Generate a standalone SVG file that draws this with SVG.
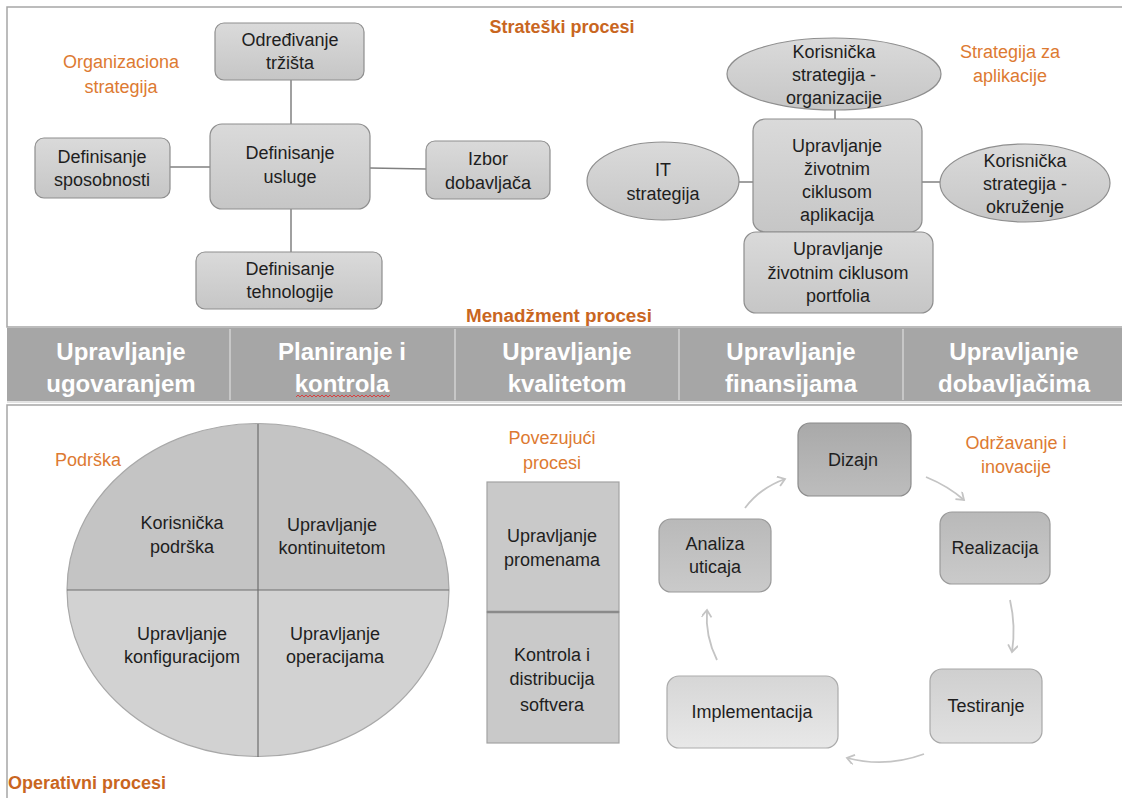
<svg xmlns="http://www.w3.org/2000/svg" width="1122" height="798" viewBox="0 0 1122 798">
<defs>
<linearGradient id="gNode" x1="0" y1="0" x2="0" y2="1"><stop offset="0" stop-color="#dadada"/><stop offset="1" stop-color="#c6c6c6"/></linearGradient>
<linearGradient id="gDark" x1="0" y1="0" x2="0" y2="1"><stop offset="0" stop-color="#a9a9a9"/><stop offset="1" stop-color="#bdbdbd"/></linearGradient>
<linearGradient id="gMid" x1="0" y1="0" x2="0" y2="1"><stop offset="0" stop-color="#b9b9b9"/><stop offset="1" stop-color="#cacaca"/></linearGradient>
<linearGradient id="gLight" x1="0" y1="0" x2="0" y2="1"><stop offset="0" stop-color="#cfcfcf"/><stop offset="1" stop-color="#e0e0e0"/></linearGradient>
<linearGradient id="gLighter" x1="0" y1="0" x2="0" y2="1"><stop offset="0" stop-color="#d6d6d6"/><stop offset="1" stop-color="#e8e8e8"/></linearGradient>
<marker id="arr" markerWidth="12" markerHeight="12" refX="8" refY="5" orient="auto" markerUnits="userSpaceOnUse"><path d="M1,0 L8,5 L1,10" fill="none" stroke="#c4c4c4" stroke-width="1.8"/></marker>
</defs>
<style>
.t{font-family:"Liberation Sans",Arial,sans-serif;font-size:18px;fill:#1e1e1e;text-anchor:middle}
.o{font-family:"Liberation Sans",Arial,sans-serif;font-size:18px;fill:#dd7a32;text-anchor:middle}
.ob{font-family:"Liberation Sans",Arial,sans-serif;font-size:18px;font-weight:bold;fill:#c9661f}
.b{font-family:"Liberation Sans",Arial,sans-serif;font-size:24px;font-weight:bold;fill:#ffffff;text-anchor:middle}
.n{fill:url(#gNode);stroke:#8e8e8e;stroke-width:1.2}
.ln{stroke:#808080;stroke-width:1.5;fill:none}
.ar{stroke:#c4c4c4;stroke-width:1.8;fill:none;marker-end:url(#arr)}
.panel{fill:none;stroke:#a6a6a6;stroke-width:1.5}
</style>
<rect width="1122" height="798" fill="#ffffff"/>
<rect class="panel" x="7" y="7" width="1125" height="320"/>
<rect class="panel" x="7" y="405" width="1125" height="400"/>

<g id="connectors">
<line class="ln" x1="291" y1="80" x2="291" y2="124"/>
<line class="ln" x1="291" y1="209" x2="291" y2="252"/>
<line class="ln" x1="170" y1="167" x2="210" y2="167"/>
<line class="ln" x1="370" y1="168" x2="426" y2="169"/>
<line class="ln" x1="835" y1="110" x2="835" y2="119"/>
<line class="ln" x1="739" y1="182" x2="753" y2="182"/>
<line class="ln" x1="922" y1="182" x2="940" y2="182"/>
<path class="ar" d="M745,508 Q760,488 785,479"/>
<path class="ar" d="M926,477 Q948,486 964,500"/>
<path class="ar" d="M1010,600 Q1016,626 1012,652"/>
<path class="ar" d="M924,754 Q886,768 847,758"/>
<path class="ar" d="M717,660 Q705,636 707,610"/>
</g>

<text class="ob" x="562" y="33" text-anchor="middle">Strateški procesi</text>
<text class="o" x="121" y="68">Organizaciona</text>
<text class="o" x="121" y="93">strategija</text>
<text class="o" x="1010" y="58">Strategija za</text>
<text class="o" x="1010" y="82">aplikacije</text>

<g id="odredjivanje"><rect class="n" x="215" y="23" width="149" height="57" rx="9"/><text class="t" x="290" y="46">Određivanje</text><text class="t" x="290" y="69">tržišta</text></g>
<g id="usluge"><rect class="n" x="210" y="124" width="160" height="85" rx="12"/><text class="t" x="290" y="159">Definisanje</text><text class="t" x="290" y="183">usluge</text></g>
<g id="sposobnosti"><rect class="n" x="35" y="138" width="135" height="60" rx="9"/><text class="t" x="102" y="163">Definisanje</text><text class="t" x="102" y="186">sposobnosti</text></g>
<g id="dobavljac"><rect class="n" x="426" y="141" width="124" height="58" rx="9"/><text class="t" x="488" y="165">Izbor</text><text class="t" x="488" y="189">dobavljača</text></g>
<g id="tehnologija"><rect class="n" x="196" y="252" width="186" height="57" rx="9"/><text class="t" x="290" y="275">Definisanje</text><text class="t" x="290" y="298">tehnologije</text></g>

<g id="kor-org"><ellipse class="n" cx="834" cy="74" rx="107" ry="36"/><text class="t" x="834" y="58">Korisnička</text><text class="t" x="834" y="81">strategija -</text><text class="t" x="834" y="104">organizacije</text></g>
<g id="it"><ellipse class="n" cx="663" cy="181" rx="76" ry="39"/><text class="t" x="663" y="176">IT</text><text class="t" x="663" y="200">strategija</text></g>
<g id="kor-okr"><ellipse class="n" cx="1025" cy="183" rx="85" ry="39"/><text class="t" x="1025" y="167">Korisnička</text><text class="t" x="1025" y="190">strategija -</text><text class="t" x="1025" y="213">okruženje</text></g>
<g id="aplikacija"><rect class="n" x="753" y="119" width="169" height="113" rx="12"/><text class="t" x="837" y="152">Upravljanje</text><text class="t" x="837" y="175">životnim</text><text class="t" x="837" y="198">ciklusom</text><text class="t" x="837" y="221">aplikacija</text></g>
<g id="portfolio"><rect class="n" x="744" y="232" width="189" height="81" rx="12"/><text class="t" x="838" y="255">Upravljanje</text><text class="t" x="838" y="279">životnim ciklusom</text><text class="t" x="838" y="302">portfolia</text></g>

<text class="ob" x="559" y="322" text-anchor="middle" textLength="186" lengthAdjust="spacingAndGlyphs">Menadžment procesi</text>

<g id="band">
<rect x="7" y="328" width="1115" height="73" fill="#a6a6a6"/>
<g stroke="#dedede" stroke-width="1.2"><line x1="230" y1="329" x2="230" y2="400"/><line x1="455" y1="329" x2="455" y2="400"/><line x1="679" y1="329" x2="679" y2="400"/><line x1="903" y1="329" x2="903" y2="400"/></g>
<line x1="7" y1="402" x2="1122" y2="402" stroke="#c8c8c8" stroke-width="1"/>
<text class="b" x="121" y="360">Upravljanje</text><text class="b" x="121" y="392">ugovaranjem</text>
<text class="b" x="342" y="360">Planiranje i</text><text class="b" x="342" y="392">kontrola</text>
<path d="M296,397 l2,-2 l2,2 l2,-2 l2,2 l2,-2 l2,2 l2,-2 l2,2 l2,-2 l2,2 l2,-2 l2,2 l2,-2 l2,2 l2,-2 l2,2 l2,-2 l2,2 l2,-2 l2,2 l2,-2 l2,2 l2,-2 l2,2 l2,-2 l2,2 l2,-2 l2,2 l2,-2 l2,2 l2,-2 l2,2 l2,-2 l2,2 l2,-2 l2,2 l2,-2 l2,2 l2,-2 l2,2 l2,-2 l2,2 l2,-2 l2,2 l2,-2 l2,2 l2,-2" fill="none" stroke="#d94040" stroke-width="1"/>
<text class="b" x="567" y="360">Upravljanje</text><text class="b" x="567" y="392">kvalitetom</text>
<text class="b" x="791" y="360">Upravljanje</text><text class="b" x="791" y="392">finansijama</text>
<text class="b" x="1014" y="360">Upravljanje</text><text class="b" x="1014" y="392">dobavljačima</text>
</g>

<text class="o" x="88" y="466">Podrška</text>
<g id="podrska-krug">
<path d="M67,590 A191,166.5 0 0 1 449,590 Z" fill="#c4c4c4"/>
<path d="M67,590 A191,166.5 0 0 0 449,590 Z" fill="#d2d2d2"/>
<ellipse cx="258" cy="590" rx="191" ry="166.5" fill="none" stroke="#a8a8a8" stroke-width="1.2"/>
<line x1="258" y1="424" x2="258" y2="757" stroke="#6e6e6e" stroke-width="1.2"/>
<line x1="67" y1="590" x2="449" y2="590" stroke="#6e6e6e" stroke-width="1.2"/>
</g>
<g id="korisnicka-podrska"><text class="t" x="182" y="529">Korisnička</text><text class="t" x="182" y="553">podrška</text></g>
<g id="kontinuitet"><text class="t" x="332" y="531">Upravljanje</text><text class="t" x="332" y="554">kontinuitetom</text></g>
<g id="konfiguracija"><text class="t" x="182" y="640">Upravljanje</text><text class="t" x="182" y="663">konfiguracijom</text></g>
<g id="operacije"><text class="t" x="335" y="640">Upravljanje</text><text class="t" x="335" y="663">operacijama</text></g>

<text class="o" x="552" y="444">Povezujući</text>
<text class="o" x="552" y="469">procesi</text>
<g id="promene"><rect x="487" y="482" width="132" height="130" fill="#c9c9c9" stroke="#a3a3a3" stroke-width="1.2"/><text class="t" x="552" y="542">Upravljanje</text><text class="t" x="552" y="566">promenama</text></g>
<g id="distribucija"><rect x="487" y="612" width="132" height="131" fill="#c9c9c9" stroke="#a3a3a3" stroke-width="1.2"/><text class="t" x="552" y="661">Kontrola i</text><text class="t" x="552" y="685">distribucija</text><text class="t" x="552" y="711">softvera</text></g>
<line x1="487" y1="612" x2="619" y2="612" stroke="#8a8a8a" stroke-width="2.5"/>

<text class="o" x="1016" y="449">Održavanje i</text>
<text class="o" x="1016" y="473">inovacije</text>
<g id="dizajn"><rect x="798" y="423" width="113" height="73" rx="12" fill="url(#gDark)" stroke="#8c8c8c" stroke-width="1.2"/><text class="t" x="853" y="466">Dizajn</text></g>
<g id="realizacija"><rect x="940" y="512" width="110" height="72" rx="12" fill="url(#gMid)" stroke="#9a9a9a" stroke-width="1.2"/><text class="t" x="995" y="554">Realizacija</text></g>
<g id="analiza"><rect x="659" y="519" width="112" height="73" rx="12" fill="url(#gMid)" stroke="#9a9a9a" stroke-width="1.2"/><text class="t" x="715" y="550">Analiza</text><text class="t" x="715" y="573">uticaja</text></g>
<g id="testiranje"><rect x="930" y="669" width="112" height="74" rx="12" fill="url(#gLight)" stroke="#a8a8a8" stroke-width="1.2"/><text class="t" x="986" y="712">Testiranje</text></g>
<g id="implementacija"><rect x="667" y="676" width="171" height="72" rx="12" fill="url(#gLighter)" stroke="#ababab" stroke-width="1.2"/><text class="t" x="752" y="718">Implementacija</text></g>

<text class="ob" x="8" y="789">Operativni procesi</text>
</svg>
